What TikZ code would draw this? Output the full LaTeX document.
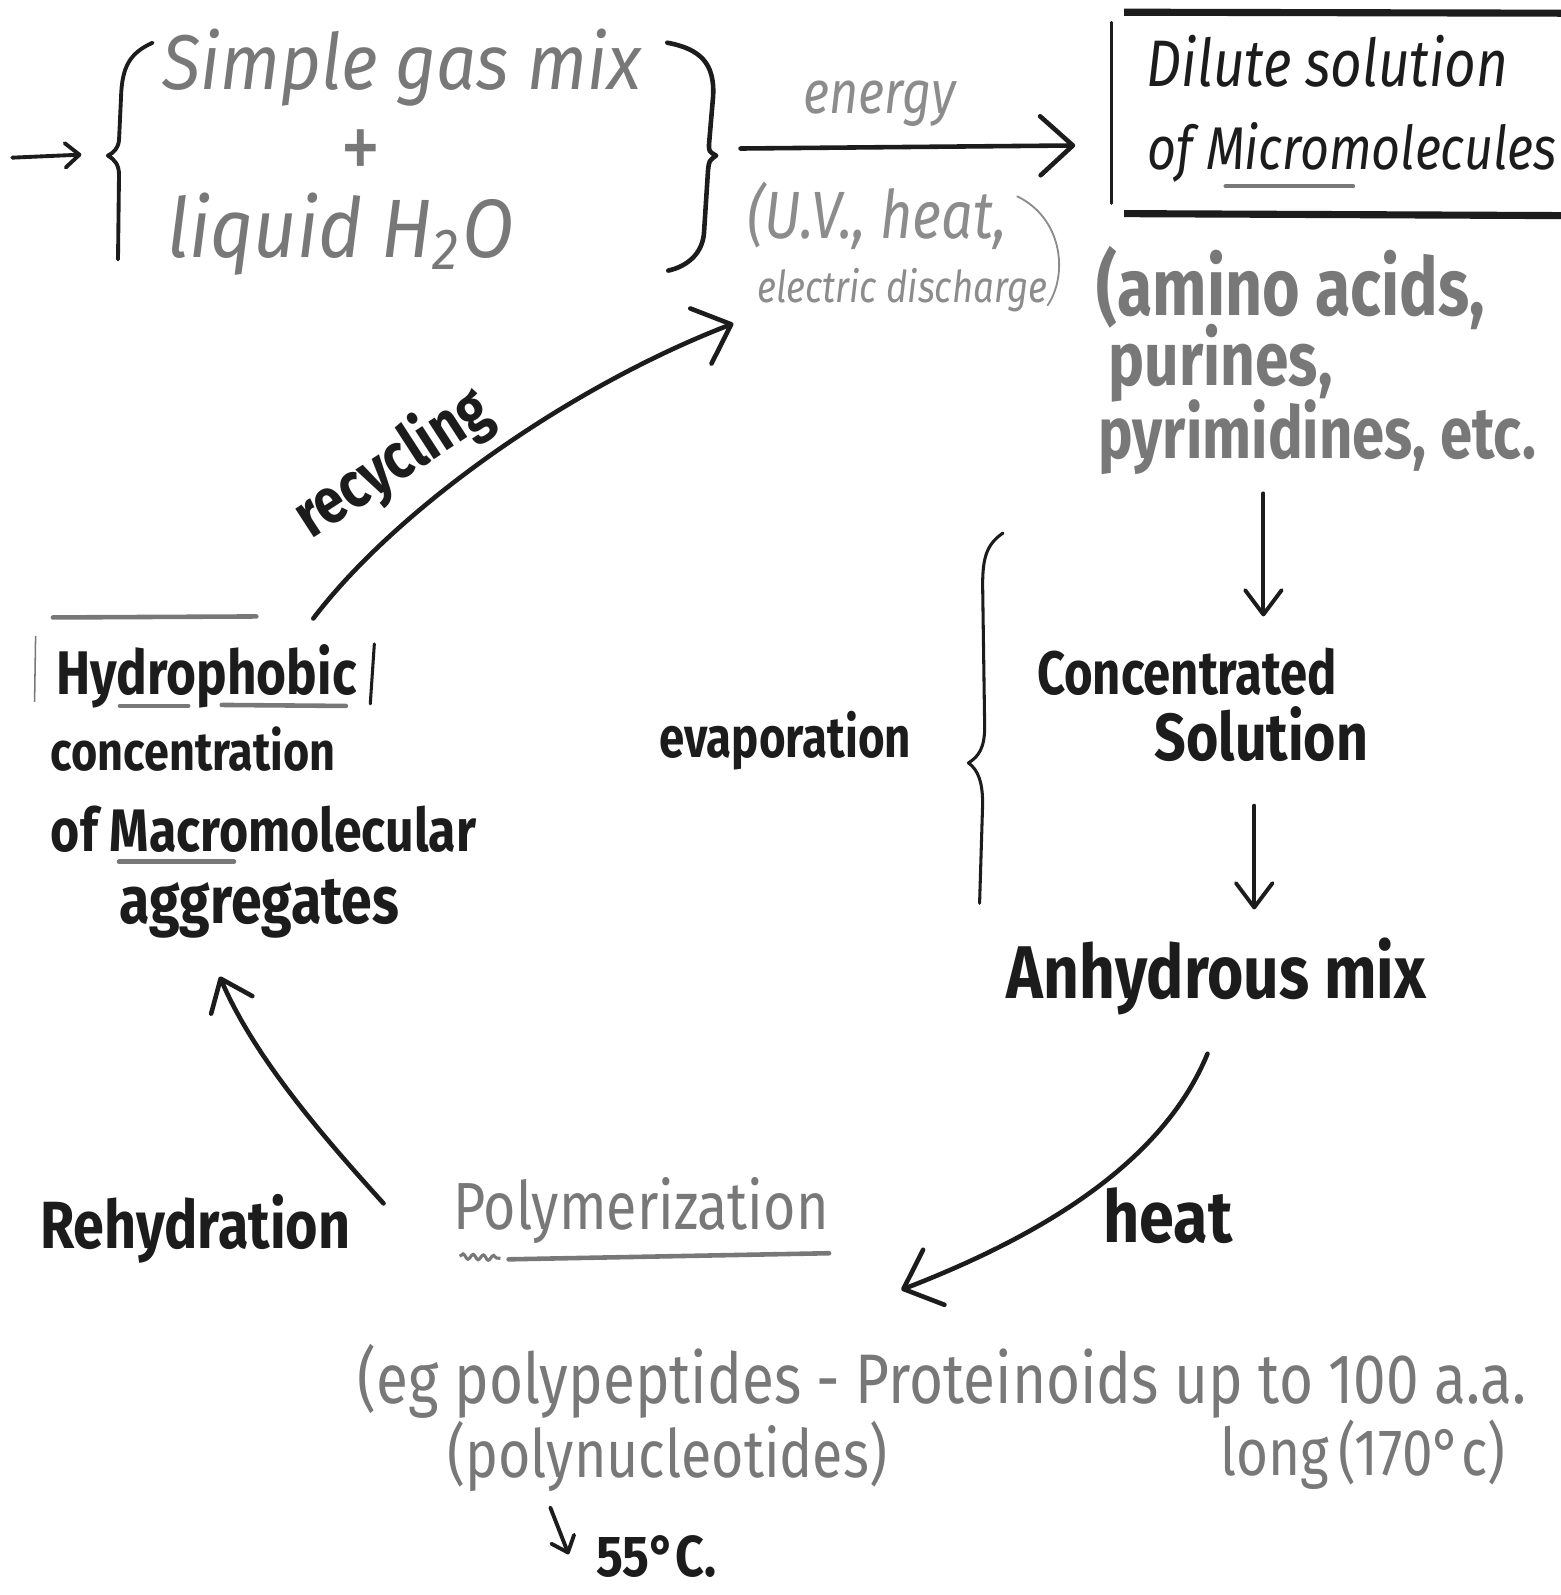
\documentclass[tikz,border=0pt]{standalone}
\usepackage{fontspec}
\setmainfont{Fira Sans}
\usetikzlibrary{arrows.meta,decorations.pathmorphing}
\definecolor{ink}{HTML}{1C1C1C}
\definecolor{pencil}{HTML}{787878}
\definecolor{faint}{HTML}{8C8C8C}
% scale a handwritten label to a given width (in bp); the optional
% argument stretches the lettering vertically first
\newcommand\fitw[3][1.2]{\resizebox{#2bp}{!}{\scalebox{1}[#1]{#3}}}

\begin{document}
\begin{tikzpicture}[x=1bp,y=-1bp,
  txt/.style={inner sep=0pt, outer sep=0pt},
  marker/.style={txt, text=ink, font=\bfseries},
  markerslant/.style={txt, text=ink, font=\itshape},
  pencilnote/.style={txt, text=pencil, font=\mdseries},
  pencilslant/.style={txt, text=pencil, font=\itshape},
  thinnote/.style={txt, text=faint, font=\itshape},
  stroke/.style={draw=ink, line width=4.5bp, line cap=round, line join=round},
  midink/.style={draw=ink, line width=3.8bp, line cap=round, line join=round},
  thinink/.style={draw=ink, line width=3bp, line cap=round, line join=round},
  graystroke/.style={draw=pencil, line width=4.5bp, line cap=round},
  thinstroke/.style={draw=faint, line width=1.8bp, line cap=round},
  bigarrow/.style={stroke, -{Straight Barb[length=32bp,width=58bp,round]}},
  midarrow/.style={stroke, -{Straight Barb[length=28bp,width=44bp,round]}},
  smallarrow/.style={midink, -{Straight Barb[length=24bp,width=36bp,round]}},
  tinyarrow/.style={midink, -{Straight Barb[length=14bp,width=24bp,round]}}
]
\useasboundingbox[fill=white] (0,0) rectangle (1534,1568);

% ---------- top row: starting mixture ----------
\node[pencilslant] (gas) at (395,66) {\fitw[1.1]{470}{Simple gas mix}};
\node[pencilnote] (plus) at (355,152) {\fitw{40}{+}};
\node[pencilslant] (liquid) at (335,230) {\fitw[1.1]{340}{liquid H\textsubscript{2}O}};

\coordinate (inlet) at (12,155);
\coordinate (lbtip) at (80,152);
\draw[tinyarrow] (inlet) -- (lbtip);

% left brace
\draw[midink] (150,42) .. controls (128,52) and (120,65) .. (119,95) -- (117,138)
  .. controls (116,146) and (112,150) .. (106,153)
  .. controls (113,157) and (117,162) .. (117,172) -- (116,255);
% right brace
\draw[stroke] (656,42) .. controls (688,48) and (703,62) .. (701,95) -- (697,142)
  .. controls (697,149) .. (704,153)
  .. controls (697,158) .. (696,168) -- (692,230)
  .. controls (690,250) and (675,262) .. (657,266);

% ---------- energy step ----------
\node[thinnote] (energy) at (865,102) {\fitw{150}{energy}};
\node[thinnote] (uv) at (862,212) {\fitw{255}{(U.V., heat,}};
\node[thinnote] (elec) at (887,285) {\fitw{285}{electric discharge}};
\draw[thinstroke] (1000,193) .. controls (1045,215) and (1050,270) .. (1030,300);

\coordinate (rbtip) at (728,146);
\coordinate (boxin) at (1057,143);
\draw[bigarrow] (rbtip) -- (boxin);

% ---------- dilute solution box ----------
\node[markerslant] (dilute) at (1305,60) {\fitw{355}{Dilute solution}};
\node[markerslant, anchor=west] (micro) at (1128,150) {\fitw{402}{of Micromolecules}};
\draw[thinink] (1093,22) -- (1093,200);
\draw[draw=ink, line width=7bp] (1105,12) -- (1545,13);
\draw[draw=ink, line width=7bp] (1105,210) -- (1545,212);
\draw[graystroke] (1205,183) -- (1330,183);

\node[pencilnote, font=\bfseries] (amino) at (1269,283) {\fitw[1.25]{382}{(amino acids,}};
\node[pencilnote, font=\bfseries, anchor=west] (purines) at (1090,357) {\fitw[1.25]{220}{purines,}};
\node[pencilnote, font=\bfseries, anchor=west] (pyrim) at (1080,430) {\fitw[1.25]{430}{pyrimidines, etc.}};

% ---------- evaporation ----------
\coordinate (d1a) at (1242,485);
\coordinate (d1b) at (1242,606);
\draw[smallarrow] (d1a) -- (d1b);

\node[marker] (conc) at (1167,660) {\fitw[1.25]{295}{Concentrated}};
\node[marker] (sol) at (1240,722) {\fitw[1.2]{210}{Solution}};

\coordinate (d2a) at (1233,792);
\coordinate (d2b) at (1233,894);
\draw[smallarrow] (d2a) -- (d2b);

\node[marker] (anhyd) at (1196,960) {\fitw[1.2]{412}{Anhydrous mix}};

\draw[thinink] (986,524) .. controls (970,535) and (966,548) .. (966,575) -- (968,715)
  .. controls (968,735) and (962,744) .. (952,750)
  .. controls (962,757) and (966,770) .. (966,790) -- (963,888);
\node[marker] (evap) at (772,728) {\fitw[1.25]{247}{evaporation}};

% ---------- heat to polymerization ----------
\coordinate (heatA) at (1187,1036);
\coordinate (heatB) at (886,1268);
\draw[bigarrow] (heatA) .. controls (1140,1150) and (1010,1220) .. (heatB);
\node[marker] (heat) at (1148,1195) {\fitw[1.15]{127}{heat}};

\node[pencilnote] (poly) at (630,1190) {\fitw{369}{Polymerization}};
\draw[draw=pencil, line width=3bp, decorate,
  decoration={snake, amplitude=2.5bp, segment length=10bp}] (452,1235) -- (492,1237);
\draw[graystroke] (500,1238) -- (815,1232);

\node[pencilnote] (eg) at (926,1358) {\fitw{1148}{(eg polypeptides - Proteinoids up to 100 a.a.}};
\node[pencilnote] (polynuc) at (656,1432) {\fitw{432}{(polynucleotides)}};
\node[pencilnote] (long) at (1340,1430) {\fitw{280}{long\,(170°c)}};

\coordinate (tA) at (541,1482);
\coordinate (tB) at (559,1528);
\draw[tinyarrow] (tA) -- (tB);
\node[marker] (t55) at (645,1530) {\fitw[1.15]{118}{55°C.}};

% ---------- rehydration ----------
\node[marker] (rehyd) at (192,1208) {\fitw[1.2]{305}{Rehydration}};
\coordinate (rehA) at (377,1183);
\coordinate (rehB) at (216,960);
\draw[midarrow] (rehA) .. controls (320,1120) and (250,1040) .. (rehB);

% ---------- macromolecular aggregates ----------
\node[marker] (hydro) at (203,665) {\fitw[1.2]{295}{Hydrophobic}};
\node[marker] (concn) at (190,736) {\fitw[1.2]{280}{concentration}};
\node[marker] (macro) at (259,815) {\fitw[1.2]{418}{of Macromolecular}};
\node[marker] (aggr) at (255,893) {\fitw[1.2]{275}{aggregates}};

\draw[graystroke] (52,607) -- (252,606);
\draw[draw=pencil, line width=1.5bp] (35,625) -- (34,690);
\draw[thinink] (368,633) -- (364,692);
\draw[graystroke] (118,694) -- (185,694);
\draw[graystroke] (218,693) -- (340,694);
\draw[graystroke] (117,847) -- (230,847);

% ---------- recycling ----------
\coordinate (recA) at (308,608);
\coordinate (recB) at (721,318);
\draw[bigarrow] (recA) .. controls (390,500) and (560,380) .. (recB);
\node[marker, rotate=33] (recyc) at (386,456) {\fitw[1.2]{215}{recycling}};

\end{tikzpicture}
\end{document}
